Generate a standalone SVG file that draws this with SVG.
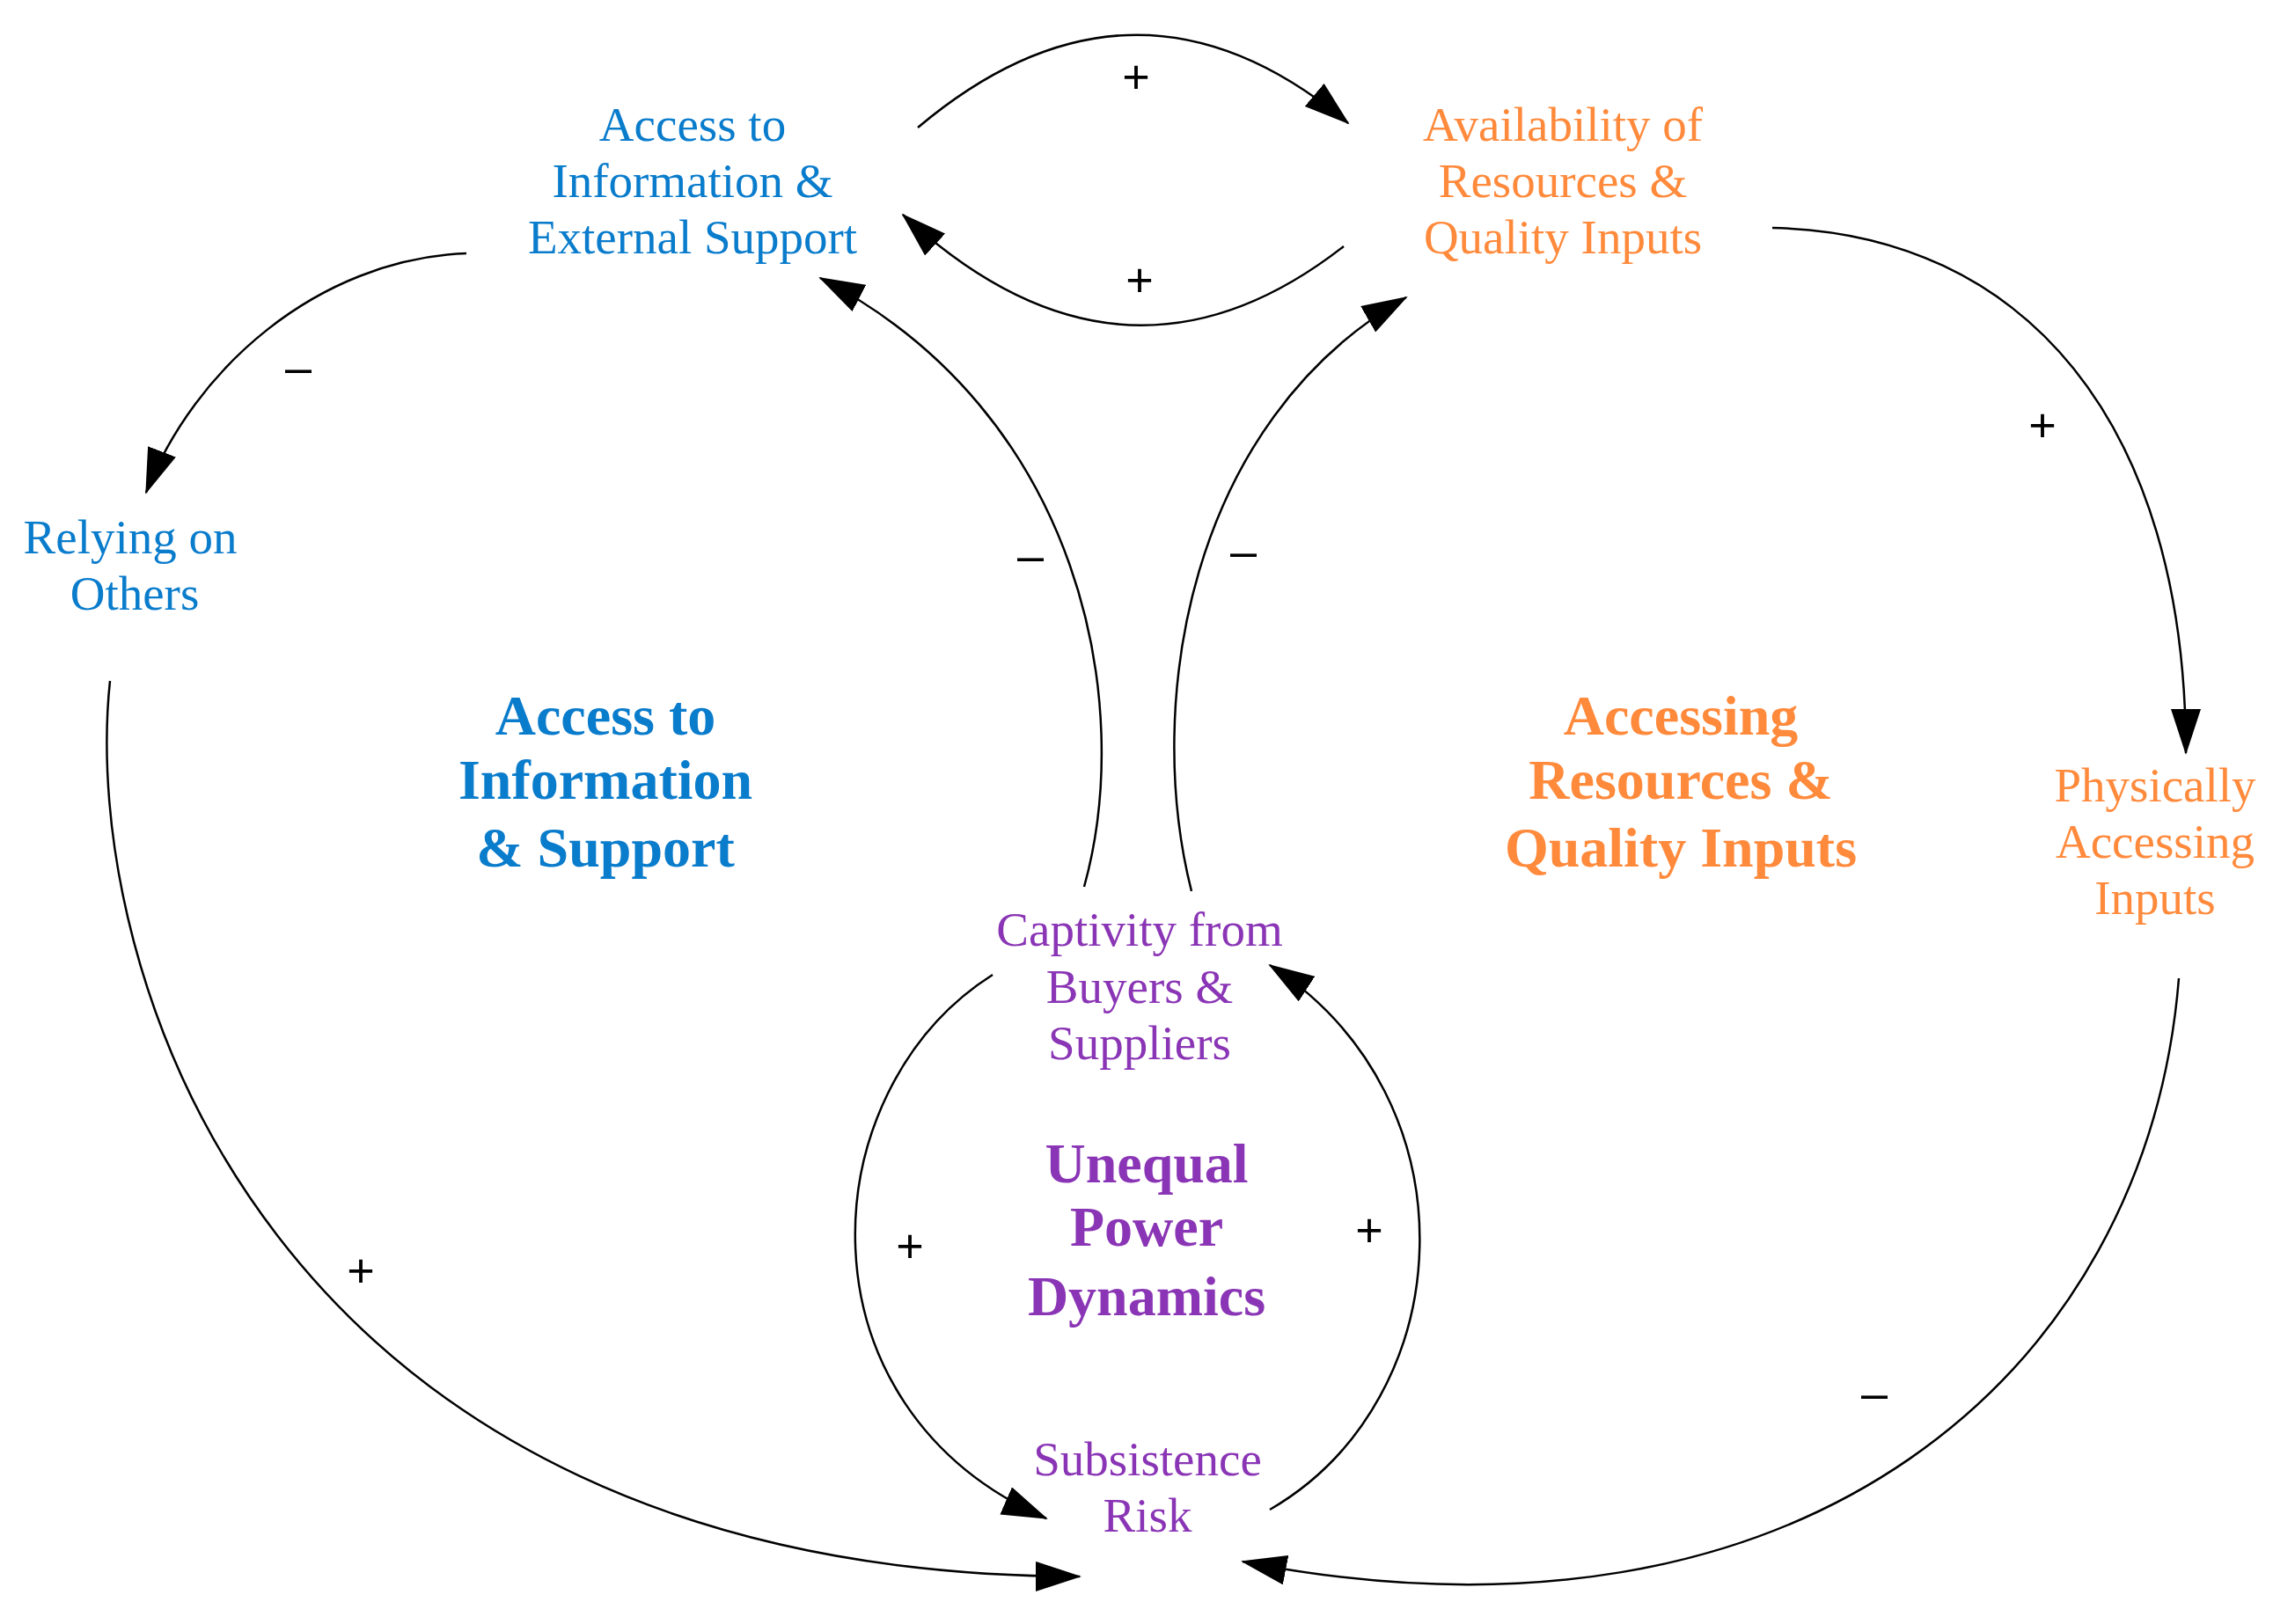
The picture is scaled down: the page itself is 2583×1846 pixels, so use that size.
<svg xmlns="http://www.w3.org/2000/svg" width="2583" height="1846" viewBox="0 0 2583 1846">
<style>
.t{font-family:"Liberation Serif","Times New Roman",serif;font-size:55px;text-anchor:middle}
.b{font-family:"Liberation Serif","Times New Roman",serif;font-size:64px;font-weight:bold;text-anchor:middle}
.blue{fill:#0a7ccc}.orange{fill:#ff8a3c}.purple{fill:#8a35b5}
.c path{fill:none;stroke:#000;stroke-width:2.5;marker-end:url(#ah)}
.p{font-family:"Liberation Sans",Arial,sans-serif;font-size:54px;text-anchor:middle;dominant-baseline:central;fill:#000}
</style>
<defs>
<marker id="ah" markerUnits="userSpaceOnUse" markerWidth="52" markerHeight="34" refX="50" refY="17" orient="auto">
<path d="M0,0 L52,17 L0,34 Z" fill="#000"/>
</marker>
</defs>
<rect width="2583" height="1846" fill="#fff"/>
<g class="c" id="connectors">
<path d="M1043,145 Q1290,-63 1532,140"/>
<path d="M1527,280 Q1276,476 1026,244"/>
<path d="M530,288 C360,295 220,420 166,560"/>
<path d="M125,774 C90,1100 300,1790 1227,1792"/>
<path d="M1232,1008 C1290,800 1230,470 932,316"/>
<path d="M1354,1013 C1300,800 1350,480 1598,338"/>
<path d="M2014,259 C2300,265 2484,480 2484,856"/>
<path d="M2476,1112 C2440,1560 2050,1900 1412,1775"/>
<path d="M1128,1108 C920,1240 900,1600 1189,1726"/>
<path d="M1443,1716 C1660,1590 1680,1250 1443,1097"/>
<g id="polarities">
<text class="p" x="1291" y="87">+</text>
<text class="p" x="1295" y="318">+</text>
<text class="p" x="339" y="417">–</text>
<text class="p" x="1171" y="631">–</text>
<text class="p" x="1413" y="626">–</text>
<text class="p" x="2321" y="483">+</text>
<text class="p" x="410" y="1444">+</text>
<text class="p" x="1034" y="1416">+</text>
<text class="p" x="1556" y="1398">+</text>
<text class="p" x="2130" y="1583">–</text>
</g>
</g>
<g id="access-info"><text class="t blue" x="787" y="160">Access to</text><text class="t blue" x="787" y="224">Information &amp;</text><text class="t blue" x="787" y="288">External Support</text></g>
<g id="availability"><text class="t orange" x="1776" y="160">Availability of</text><text class="t orange" x="1776" y="224">Resources &amp;</text><text class="t orange" x="1776" y="288">Quality Inputs</text></g>
<g id="relying"><text class="t blue" x="148" y="629">Relying on</text><text class="t blue" x="153" y="693">Others</text></g>
<g id="physically"><text class="t orange" x="2449" y="911">Physically</text><text class="t orange" x="2449" y="975">Accessing</text><text class="t orange" x="2449" y="1039">Inputs</text></g>
<g id="captivity"><text class="t purple" x="1295" y="1075">Captivity from</text><text class="t purple" x="1295" y="1140">Buyers &amp;</text><text class="t purple" x="1295" y="1204">Suppliers</text></g>
<g id="subsistence"><text class="t purple" x="1304" y="1677">Subsistence</text><text class="t purple" x="1304" y="1741">Risk</text></g>
<g id="loop-info"><text class="b blue" x="688" y="835">Access to</text><text class="b blue" x="688" y="908">Information</text><text class="b blue" x="688" y="985">&amp; Support</text></g>
<g id="loop-resources"><text class="b orange" x="1910" y="835">Accessing</text><text class="b orange" x="1910" y="908">Resources &amp;</text><text class="b orange" x="1910" y="985">Quality Inputs</text></g>
<g id="loop-power"><text class="b purple" x="1303" y="1344">Unequal</text><text class="b purple" x="1303" y="1416">Power</text><text class="b purple" x="1303" y="1495">Dynamics</text></g>
</svg>
